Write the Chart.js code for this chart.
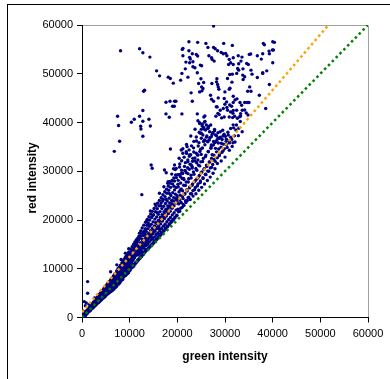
<!DOCTYPE html>
<html lang="en">
<head>
    <meta charset="UTF-8">
    <title>red vs green intensity</title>
    <script src="https://cdn.jsdelivr.net/npm/chart.js"></script>
    <style>
        body { margin: 0; background: #fff; overflow: hidden; }
        #frame { position: absolute; left: 7px; top: 4px; width: 420px; height: 420px;
                 border-top: 1px solid #000; border-left: 1px solid #000; }
        #scatter { position: absolute; left: 0; top: 0; }
    </style>
</head>
<body>
    <div id="frame"></div>
    <canvas id="scatter" width="390" height="379"></canvas>
    <script>
    // [green, red] pairs, grouped by region
    const lowBand = [
        [100,200],[200,150],[300,400],[350,250],[450,600],[500,450],[600,700],[650,550],[700,900],[800,750],
        [850,1000],[900,850],[1000,1200],[1050,1000],[1100,1350],[1200,1150],[1250,1500],[1300,1300],[1400,1650],[1450,1400],
        [1500,1800],[1600,1550],[1650,1950],[1700,1700],[1800,2100],[1850,1850],[1900,2300],[2000,2000],[2050,2450],[2100,2200],
        [2200,2600],[2250,2350],[2300,2800],[2400,2500],[2450,2950],[2500,2700],[2600,3100],[2650,2800],[2700,3300],[2800,3000],
        [2850,3450],[2900,3150],[3000,3650],[3050,3300],[3100,3850],[3200,3450],[3250,3900],[3300,3600],[3400,4100],[3450,3700],
        [3500,4300],[3600,3900],[3650,4400],[3700,4050],[3800,4650],[3850,4150],[3900,4800],[4000,4300],[4050,4900],[4100,4500],
        [4200,5100],[4250,4650],[4300,5300],[4400,4800],[4450,5400],[4500,5000],[4600,5650],[4650,5100],[4700,5800],[4800,5300],
        [4850,5950],[4900,5450],[5000,6100],[600,250],[1100,850],[1700,1450],[2300,2000],[2900,2600],[3500,3200],[4100,3700],
        [4700,4300],[480,3260],[1180,4980],[1180,7360],[300,1300],[700,2400],[150,900],[900,3000],[1500,2700],[2600,4000]
    ];
    const midBand = [
        [5100,5000],[5150,5800],[5200,6300],[5250,5400],[5300,6700],[5350,5900],[5400,4900],[5450,6200],[5500,7100],[5550,5600],
        [5600,6500],[5650,6000],[5700,7300],[5750,5300],[5800,6800],[5850,6300],[5900,5700],[5950,7500],[6000,6600],[6050,5500],
        [6100,7000],[6150,6100],[6200,7900],[6250,5800],[6300,7200],[6350,6800],[6400,6000],[6450,8100],[6500,7400],[6550,6300],
        [6600,7700],[6650,6900],[6700,8500],[6750,6200],[6800,7600],[6850,7100],[6900,8800],[6950,6500],[7000,8000],[7050,7300],
        [7100,9000],[7150,6700],[7200,8300],[7250,7700],[7300,9400],[7350,7000],[7400,8600],[7450,8000],[7500,6900],[7550,9100],
        [7600,8300],[7650,7500],[7700,9700],[7750,8700],[7800,7300],[7850,9300],[7900,8500],[7950,10000],[8000,7800],[8050,9000],
        [8100,8800],[8150,10300],[8200,8000],[8250,9500],[8300,9100],[8350,10700],[8400,8300],[8450,9800],[8500,9300],[8550,7800],
        [8600,10500],[8650,9600],[8700,11100],[8750,8700],[8800,10000],[8850,9400],[8900,11400],[8950,9000],[9000,10400],[9050,9900],
        [9100,11700],[9150,8600],[9200,10700],[9250,9700],[9300,12000],[9350,9300],[9400,11000],[9450,10300],[9500,12300],[9550,9500],
        [9600,11300],[9650,10600],[9700,12700],[9750,9200],[9800,11600],[9850,10900],[9900,13000],[9950,10000],
        [6000,9400],[7300,10800],[8200,11900],[9100,13200],[9800,14100]
    ];
    const upperBand = [
        [10000,11800],[10100,10500],[10150,12600],[10200,11200],[10300,13300],[10350,10300],[10400,12100],[10500,11500],[10550,13800],[10600,10900],
        [10700,12600],[10750,11900],[10800,14200],[10900,10800],[10950,12900],[11000,12300],[11100,14600],[11150,11200],[11200,13300],[11300,12700],
        [11350,15000],[11400,11400],[11500,13700],[11550,12900],[11600,15500],[11700,11800],[11750,14100],[11800,13300],[11900,16000],[11950,12000],
        [12000,14400],[12100,13700],[12150,16300],[12200,12300],[12300,14800],[12350,13900],[12400,16800],[12500,12500],[12550,15100],[12600,14300],
        [12700,17300],[12750,12900],[12800,15500],[12900,14700],[13000,17700],[13050,13300],[13100,16000],[13200,15100],[13300,18200],[13350,13700],
        [13400,16400],[13500,15500],[13600,18900],[13650,14000],[13700,16900],[13800,15900],[13900,19400],[13950,14300],[14000,17300],[14100,16300],
        [14200,20000],[14300,14700],[14400,17800],[14500,16800],[14600,20500],[14700,15100],[14800,18300],[14900,17200],[15000,21100],[15100,15600],
        [15200,18800],[15300,17700],[15400,21700],[15500,16000],[15600,19400],[15700,18200],[15800,22300],[15900,16500],[16000,19900],[16100,18700],
        [16200,22900],[16300,17000],[16400,20500],[16500,19200],[16600,23500],[16700,17400],[16800,21100],[16900,19800],[17000,24200],[17100,17800],
        [17200,21700],[17300,20300],[17400,24800],[17500,18300],[17600,22200],[17700,20800],[17800,25500],[17900,18700],[18000,22900],[18100,21300],
        [18200,26100],[18300,19200],[18400,23500],[18500,21800],[18600,26700],[18700,19700],[18800,24000],[18900,22400],[19000,27400],[19100,20100],
        [19200,24600],[19300,22900],[19400,28000],[19500,20600],[19600,25300],[19700,23500],[19800,28700],[19900,21000],
        [12550,25200],[14510,31280],[14720,30610],[19410,31280],[19770,30600],[18360,27860],[18000,27530],[17310,30260],[17670,29700]
    ];
    const wideBand = [
        [20000,24500],[20100,22200],[20200,26800],[20300,23300],[20400,29300],[20500,21800],[20600,25100],[20700,27600],[20800,23600],[20900,30200],
        [21000,22600],[21100,26000],[21200,24400],[21300,28500],[21400,23000],[21500,31000],[21600,25400],[21700,27100],[21800,23600],[21900,29700],
        [22000,26200],[22100,24000],[22200,32300],[22300,27800],[22400,24700],[22500,30400],[22600,26800],[22700,24200],[22800,33400],[22900,28600],
        [23000,25400],[23100,31000],[23200,27400],[23300,24900],[23400,34800],[23500,29400],[23600,26200],[23700,32100],[23800,28100],[23900,25400],
        [24000,36200],[24100,30200],[24200,27000],[24300,33300],[24400,28800],[24500,26100],[24600,38000],[24700,31100],[24800,27700],[24900,34500],
        [25000,29700],[25100,26700],[25200,39300],[25300,32000],[25400,28500],[25500,36100],[25600,30400],[25700,27400],[25800,40200],[25900,33000],
        [26000,29300],[26100,37000],[26200,31000],[26300,28100],[26400,38800],[26500,34000],[26600,30000],[26700,36400],[26800,31900],[26900,28800],
        [27000,39500],[27100,35000],[27200,30800],[27300,33400],[27400,37900],[27500,29600],[27600,36100],[27700,32400],[27800,38600],[27900,30500],
        [28000,34700],[28200,37300],[28400,31600],[28600,35800],[28800,33200],[29000,38100],[29200,32100],[29400,36500],[29600,34200],[29800,37600],
        [30000,32900],[30300,35500],[30600,38000],[30900,34300],[31200,37000],[31500,35100],[31800,38900],[32100,36000],[32400,39500],[32800,37300],
        [33200,40200],[33600,38100]
    ];
    // extra points that fill out the dense diagonal band
    const bandFill = [
        [230,420],[370,180],[520,820],[610,380],[740,1110],[880,620],[960,1380],[1130,930],[1240,1690],[1370,1160],
        [1480,2030],[1560,1290],[1720,2240],[1790,1530],[1930,2610],[2060,1780],[2170,2870],[2280,2020],[2390,3160],[2540,2230],
        [2620,3380],[2760,2470],[2880,3770],[2970,2640],[3130,4120],[3240,2910],[3360,4380],[3470,3080],[3580,4690],[3720,3290],
        [3840,4980],[3960,3530],[4080,5260],[4190,3820],[4330,5610],[4460,4010],[4570,5890],[4690,4150],[4810,6180],[4940,4420],
        [5060,6520],[5170,4670],[5320,6880],[5440,4860],[5580,7160],[5710,5090],[5860,7440],[5970,5280],
        [6080,7830],[6140,5370],[6230,6910],[6370,8240],[6420,5590],[6530,7030],[6610,8520],[6720,5840],[6780,7310],[6890,8130],
        [6940,9010],[7030,6170],[7120,7780],[7190,8670],[7270,6420],[7330,9620],[7420,7290],[7510,8910],[7580,10040],[7670,6840],
        [7740,8140],[7820,10320],[7930,7110],[7980,9380],[8070,10710],[8130,7460],[8210,8890],[8290,10030],[8370,11180],[8440,7890],
        [8520,9710],[8590,11520],[8680,8240],[8720,10270],[8810,11840],[8880,8510],[8930,9640],[9020,12210],[9080,9170],[9170,10930],
        [9220,12540],[9310,8830],[9380,10140],[9420,11620],[9510,12860],[9580,9010],[9630,10830],[9720,12190],[9790,13410],[9860,9490],
        [9920,11280],[10030,12920],[10080,9710],[10160,14010],[10240,11610],[10310,10090],[10390,13440],[10460,12480],[10530,14520],[10610,10330],
        [10680,11860],[10740,13720],[10830,15020],[10880,10560],[10970,12240],[11040,14190],[11090,15480],[11180,11010],[11240,12890],[11310,14490],
        [11390,15910],[11460,11350],[11520,13230],[11590,14860],[11660,16240],[11740,11690],[11810,12840],[11870,14610],[11940,16660],[11990,13110],
        [12060,17290],[12130,12110],[12210,15360],[12270,13210],[12330,17740],[12420,14160],[12480,12640],[12560,16130],[12630,18360],[12690,13480],
        [12770,15840],[12840,12920],[12910,16810],[12970,18940],[13040,14210],[13120,17230],[13190,13390],[13260,15960],[13330,19540],[13410,14780],
        [13470,17660],[13540,13810],[13620,16330],[13680,20120],[13760,15040],[13830,18240],[13890,14050],[13970,16820],[14040,20660],[14120,15470],
        [14180,18730],[14260,14460],[14330,17030],[14410,21240],[14470,15880],[14540,19110],[14630,14880],[14690,17520],[14760,21770],[14840,16130],
        [14910,19620],[14980,15210],[15060,18120],[15130,22350],[15210,16540],[15280,20180],[15360,15580],[15430,18530],[15510,22880],[15570,17020],
        [15650,20620],[15720,16040],[15790,19170],[15870,23440],[15940,17360],[16030,21160],[16090,16420],[16170,19640],[16240,24010],[16320,17810],
        [16380,21720],[16460,16860],[16540,20170],[16610,24570],[16690,18260],[16760,22340],[16830,17230],[16910,20690],[16980,25180],[17060,18740],
        [17140,22820],[17210,17720],[17280,21240],[17360,25790],[17430,19130],[17520,23370],[17580,18160],[17670,21780],[17730,26330],[17810,19640],
        [17880,23880],[17960,18590],[18040,22360],[18110,26940],[18190,20110],[18270,24460],[18340,19080],[18420,22890],[18490,27530],[18570,20530],
        [18640,25040],[18720,19540],[18790,23380],[18870,28090],[18940,21060],[19030,25610],[19090,19960],[19170,23920],[19260,28640],[19330,21480],
        [19410,26170],[19480,20410],[19560,24460],[19640,29230],[19720,22030],[19790,26680],[19870,20870],[19950,24980],
        [20080,23540],[20170,28130],[20260,21670],[20340,25760],[20470,30860],[20530,24080],[20640,28920],[20720,22410],[20830,26380],[20910,32140],
        [21030,24870],[21120,29540],[21230,23170],[21340,27120],[21420,32890],[21530,25340],[21640,30150],[21720,23940],[21860,27780],[21950,33660],
        [22060,25930],[22170,30720],[22250,24560],[22380,28460],[22460,34380],[22570,26590],[22680,31430],[22760,25380],[22870,29170],[22960,35210],
        [23080,27140],[23190,32060],[23270,26030],[23380,29840],[23470,36120],[23580,27830],[23690,32720],[23780,26680],[23890,30560],[23980,37040],
        [24130,28470],[24220,33390],[24330,27380],[24410,31260],[24540,35870],[24620,29150],[24730,34040],[24840,28020],[24930,31930],[25040,37820],
        [25160,29860],[25270,34760],[25380,28690],[25460,32640],[25570,38670],[25680,30540],[25790,35430],[25880,29380],[25990,33310],[26110,31260],
        [26240,36170],[26360,30030],[26480,34040],[26570,39190],[26690,31910],[26810,36880],[26930,30690],[27040,34720],[27180,32640],[27290,37560],
        [27430,31380],[27560,35390],[27680,33270],[27810,38290],[27940,32030],[28070,36040],[28230,33980],[28380,32750],[28520,36820],[28670,34560],
        [28840,33410],[29010,36980],[29180,34930],[29350,33870],[29520,38410],[29690,35560],[29870,34590],[30060,37170],[30240,36130],[30450,34870],
        [30690,37440],[30920,35820],[31180,38760],[31430,36530],[31710,39520],[31980,37260],[32270,38480],[32590,40870],[32910,38810],[33270,41330]
    ];
    // ragged upper edge of the band
    const bandEdge = [
        [13250,17050],[13580,19830],[13720,15710],[14060,18960],[14350,21870],[14580,16440],[14870,20930],[15050,17630],[15320,23260],[15480,19460],
        [15830,21480],[16070,18320],[16250,25480],[16490,22930],[16720,19870],[16950,23910],[17180,26810],[17390,20640],[17620,24270],[17850,21940],
        [18060,27870],[18330,25460],[18580,22680],[18830,29420],[19060,23140],[19310,26930],[19570,30340],[19830,24120],[20130,27340],[20380,32680],
        [20610,26140],[20880,29610],[21160,34620],[21390,28320],[21680,31760],[21930,35480],[22230,29520],[22520,33070],[22820,37240],[23120,30680],
        [23450,33960],[23720,38630],[24060,31740],[24380,35180],[24690,39810],[25010,33460]
    ];
    const spread = [
        [24320,40360],[24670,39950],[25240,39690],[25720,40100],[26080,39480],[25510,39010],[25030,38600],[25930,38460],[26410,38800],[26770,38110],
        [24810,37780],[25360,37430],[26200,37230],[27130,37080],[27470,37780],[28030,37430],[28520,37900],[28870,36760],[28310,36410],[29570,37230],
        [30280,36550],[30980,36260],[31670,35850],[29230,35730],[27820,35850],[27130,35380],[26410,36060],[25720,36410],[25030,36760],
        [28180,43230],[28520,41880],[30980,43580],[31670,41880],[33080,41180],[34130,42560],[34830,41530],
        [20820,34360],[21160,33680],[21870,34010],[22570,33330],[23260,32650],[23970,33680],[24310,32310],[22210,31960],[22920,31280],
        [19200,30500],[20100,29300],[21000,28500],[21600,30100],[20500,31500]
    ];
    const cloud = [
        [8090,54720],[12080,55130],[12770,54310],[14240,53420],[15650,50600],[16280,49570],[18100,49300],[18520,49040],[19150,48070],[20690,48690],
        [20960,50070],[21670,51010],[21800,52390],[21170,53690],[21040,55000],[21170,55210],[22430,54720],[22580,53360],[22720,53010],[23140,54100],
        [23980,53970],[24260,53630],[24260,56440],[26000,56230],[26420,55410],[22580,52250],[23270,52460],[24820,51770],[25100,51630],[23270,51430],
        [23690,51220],[24190,50190],[22220,49300],[24950,48960],[25520,48210],[24470,48010],[25100,47300],[25380,46980],[24680,46280],[25170,46490],
        [22890,46080],[13130,46630],[12920,46420],[17620,44160],[18460,44370],[19420,44370],[19700,44370],[19000,43340],[19360,43340],[23140,44370],
        [12770,42450],[17620,41760],[18310,41080],[20960,41760],[24190,41760],[25780,41350],[7460,41280],[12080,41280],[10960,40670],[14040,40670],
        [6770,34080],[7890,36140],[7680,39370],[10350,40050],[12310,39230],[12370,38670],[12770,40260],[14340,39290],[12770,37170],[18550,34560],
        [22050,35050],[27600,59800],[29730,56230],[31540,55820],[27600,55410],[27940,55130],[28450,54720],[26620,53690],[27180,53280],[27310,52940],
        [27730,52600],[29200,54380],[29620,54100],[30130,54180],[30400,53690],[30890,52940],[31730,53280],[32780,53690],[33560,53420],[35090,53970],
        [36780,53690],[37620,53010],[38260,55960],[40020,56570],[40360,56440],[40150,54860],[39310,54100],[37910,54100],[31730,51910],[30760,51910],
        [31180,52250],[33350,52600],[32870,52040],[32660,51090],[32870,50740],[33770,51010],[34550,52120],[34880,51910],[35450,50740],[35670,49920],
        [37910,50070],[38760,50600],[31540,49920],[30990,49850],[32460,50070],[33720,49720],[34130,49370],[33810,48830],[31460,48280],[30530,49040],
        [28300,48960],[28230,48340],[28450,47800],[28580,47300],[28720,46830],[27250,48010],[29980,46280],[30890,46830],[31040,47040],[35180,47300],
        [35450,46420],[34760,46420],[37200,45600],[39310,47800],[26970,45600],[27180,44780],[27600,44370],[28580,45050],[29840,44920],[30340,44230],
        [29980,43750],[31730,45400],[32090,44640],[32510,44850],[34130,44100],[34680,44100],[35030,44100],[31730,44100],[31390,43340],[33140,44100],
        [33490,43550],[28370,43200],[29000,42520],[29640,42870],[30400,43070],[30540,42520],[31180,42170],[31730,42450],[32440,42520],[33620,42520],
        [33280,41830],[28090,41280],[28780,41620],[29290,40940],[29840,41140],[30890,41140],[31600,41010],[32020,41280],[34460,41960],[38540,42870],
        [25560,41140],[22430,56570],[38040,56230],[39240,54650],[39940,54860],[40020,52250],[37910,50190],[36780,49240],[35390,54040]
    ];

    // the two dotted reference lines (green = red, and the steeper orange one)
    const equalGreen = [0, 60000];
    const equalRed = [0, 60000];
    const orangeGreen = [0, 51700];
    const orangeRed = [1100, 60000];

    const axisTicks = [0, 10000, 20000, 30000, 40000, 50000, 60000];

    const spots = [].concat(lowBand, midBand, upperBand, wideBand, bandFill, bandEdge, spread, cloud)
        .map(p => ({ x: p[0], y: p[1] }));

    const toLine = (xs, ys) => xs.map((v, i) => ({ x: v, y: ys[i] }));

    // gray frame on top and right of the plot area
    const plotFrame = {
        id: 'plotFrame',
        beforeDraw(chart) {
            const a = chart.chartArea;
            const ctx = chart.ctx;
            ctx.save();
            ctx.strokeStyle = '#a0a0a0';
            ctx.lineWidth = 1;
            ctx.beginPath();
            ctx.moveTo(a.left, a.top + 0.5);
            ctx.lineTo(a.right + 0.5, a.top + 0.5);
            ctx.lineTo(a.right + 0.5, a.bottom);
            ctx.stroke();
            ctx.restore();
        }
    };

    const tickFont = { family: '"Liberation Sans", Arial, sans-serif', size: 11 };
    const titleFont = { family: '"Liberation Sans", Arial, sans-serif', size: 12, weight: 'bold' };

    function axis(title, pad) {
        return {
            type: 'linear',
            min: 0,
            max: 60000,
            afterBuildTicks: s => { s.ticks = axisTicks.map(v => ({ value: v })); },
            ticks: {
                color: '#000',
                font: tickFont,
                padding: pad,
                callback: v => String(v)
            },
            grid: { drawOnChartArea: false, drawTicks: true, tickLength: 5, color: '#000' },
            border: { display: true, color: '#000', width: 1 },
            title: { display: true, text: title, color: '#000', font: titleFont }
        };
    }

    const xAxis = axis('green intensity', 5);
    xAxis.title.padding = { top: 0, bottom: 15 };
    xAxis.afterFit = s => { s.height = 61.5; };

    const yAxis = axis('red intensity    ', 4);
    yAxis.title.padding = { top: 25, bottom: 0 };
    yAxis.afterFit = s => { s.width = 82; };

    new Chart(document.getElementById('scatter').getContext('2d'), {
        type: 'scatter',
        data: {
            datasets: [
                {
                    type: 'line',
                    data: toLine(orangeGreen, orangeRed),
                    borderColor: '#ffa000',
                    borderWidth: 2.5,
                    borderDash: [2.5, 3],
                    pointRadius: 0,
                    fill: false,
                    order: 0
                },
                {
                    type: 'line',
                    data: toLine(equalGreen, equalRed),
                    borderColor: '#008000',
                    borderWidth: 2.5,
                    borderDash: [2.5, 3],
                    pointRadius: 0,
                    fill: false,
                    order: 0
                },
                {
                    data: spots,
                    backgroundColor: '#000080',
                    borderWidth: 0,
                    pointRadius: 1.7,
                    order: 1
                }
            ]
        },
        options: {
            responsive: false,
            animation: false,
            events: [],
            layout: { padding: { left: 0, top: 25, right: 22, bottom: 0 } },
            plugins: { legend: { display: false }, tooltip: { enabled: false } },
            scales: { x: xAxis, y: yAxis }
        },
        plugins: [plotFrame]
    });
    </script>
</body>
</html>
